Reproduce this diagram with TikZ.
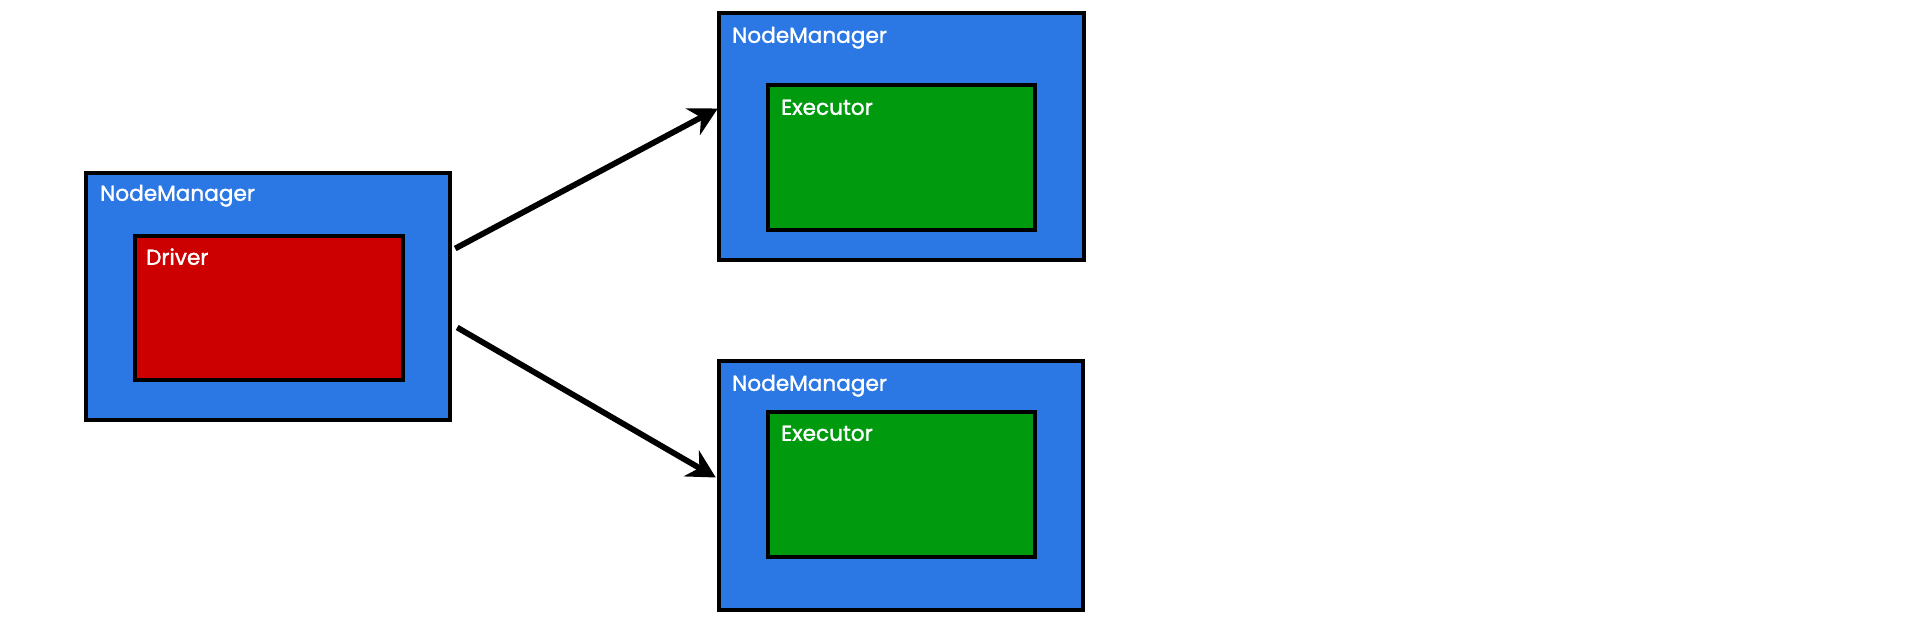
\documentclass[tikz,border=0pt]{standalone}
\usepackage{fontspec}
\setmainfont{Poppins}
\newfontfamily\lblfont{Poppins}[FakeBold=1.5]
\usetikzlibrary{fit,arrows.meta}

\definecolor{nmblue}{HTML}{2B78E4}
\definecolor{drvred}{HTML}{CC0000}
\definecolor{exgreen}{HTML}{009A0E}

\tikzset{
    box/.style={draw=black, line width=2.5pt, inner sep=0pt},
    nmbox/.style={box, fill=nmblue},
    drvbox/.style={box, fill=drvred},
    exbox/.style={box, fill=exgreen},
    boxlabel/.style={text=white, inner sep=0pt, anchor=base west, font=\lblfont\fontsize{12.3}{14}\selectfont},
    link/.style={line width=3.3pt, -{Stealth[length=16pt,width=17pt]}}
}

\begin{document}
\begin{tikzpicture}[x=0.02cm, y=-0.02cm]
        \useasboundingbox (0, 0) rectangle (1906, 628);
        \node [nmbox, fit={(86, 173) (450, 420)}] (nm1) {};
        \node [drvbox, fit={(135, 236) (403, 380)}] (driver) {};
        \node [nmbox, fit={(719, 13) (1084, 260)}] (nm2) {};
        \node [exbox, fit={(768, 85) (1035, 230)}] (exec1) {};
        \node [nmbox, fit={(719, 361) (1083, 610)}] (nm3) {};
        \node [exbox, fit={(768, 412) (1035, 557)}] (exec2) {};
        \node [boxlabel] (nm1label) at ([shift={(16, 30)}]nm1.north west) {NodeManager};
        \node [boxlabel] (driverlabel) at ([shift={(13, 31)}]driver.north west) {Driver};
        \node [boxlabel] (nm2label) at ([shift={(15, 32)}]nm2.north west) {NodeManager};
        \node [boxlabel] (exec1label) at ([shift={(15, 32)}]exec1.north west) {Executor};
        \node [boxlabel] (nm3label) at ([shift={(15, 32)}]nm3.north west) {NodeManager};
        \node [boxlabel] (exec2label) at ([shift={(15, 31)}]exec2.north west) {Executor};
        \draw [link] ([shift={(3, -48)}]nm1.east) -- ([shift={(1, -28)}]nm2.west);
        \draw [link] ([shift={(5, 31)}]nm1.east) -- ([shift={(-1, -8)}]nm3.west);
    \end{tikzpicture}
\end{document}
